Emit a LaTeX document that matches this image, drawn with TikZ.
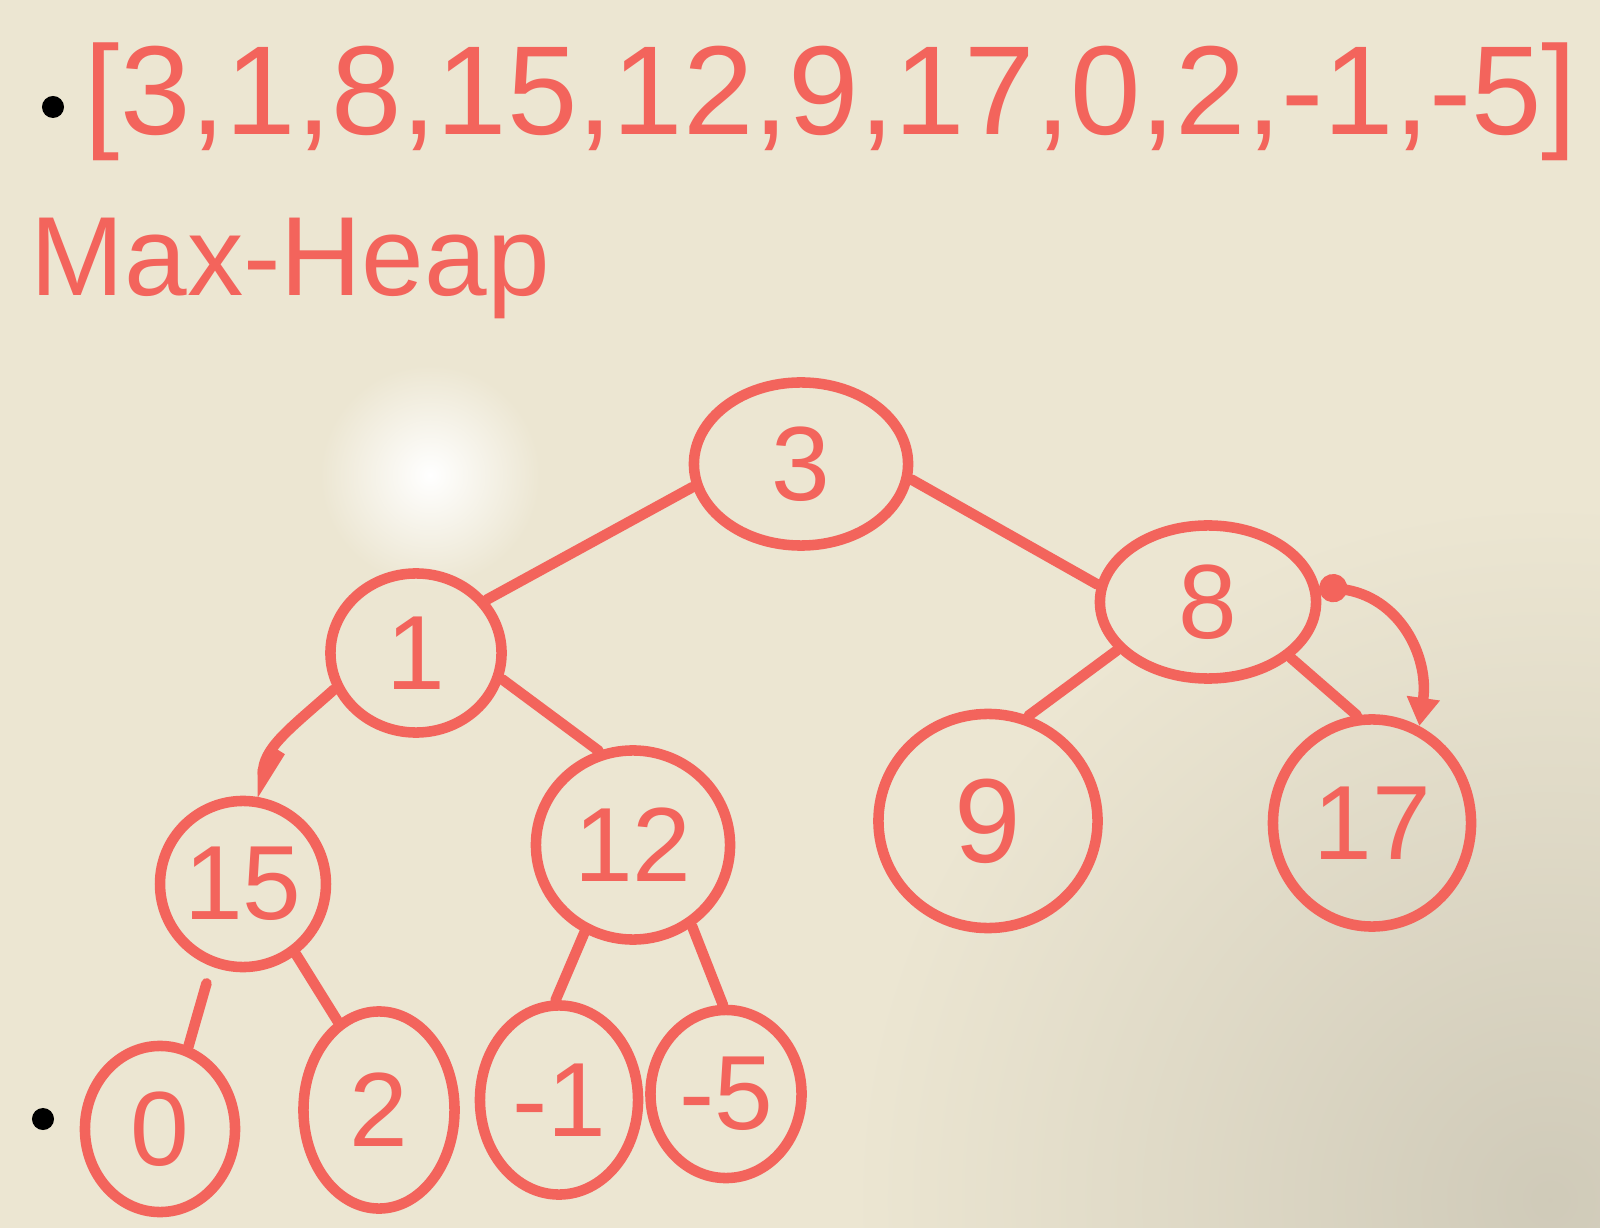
\documentclass[tikz,border=0pt]{standalone}
\usepackage{fontspec}
\setmainfont{Liberation Sans}
\usetikzlibrary{shapes.geometric,arrows.meta}
\definecolor{marker}{RGB}{243,100,92}
\definecolor{board}{RGB}{236,230,210}
\begin{document}
\begin{tikzpicture}[x=0.01cm,y=-0.01cm,
  hnode/.style={ellipse,draw=marker,line width=3pt,inner sep=0pt,text=marker,font=\fontsize{30}{32}\selectfont},
  edge/.style={draw=marker,line width=3pt,line cap=round},
  bullet/.style={circle,fill=black,inner sep=0pt,minimum size=0.22cm},
  label/.style={text=marker,inner sep=0pt}]
\useasboundingbox (0,0) rectangle (1600,1228);
\begin{scope}
\clip (0,0) rectangle (1600,1228);
\fill[board] (0,0) rectangle (1600,1228);
\shade[inner color=board!88!black,outer color=board] (1550,1200) circle (700);
\shade[inner color=white,outer color=board] (430,475) circle (110);
\end{scope}

% header
\node[bullet] (b1) at (53,107) {};
\node[label,font=\fontsize{36}{40}\selectfont] (arr) at (831,102) {[3,1,8,15,12,9,17,0,2,-1,-5]};
\node[label,font=\fontsize{32}{36}\selectfont,anchor=west] (title) at (30,268) {Max-Heap};
\node[bullet] (b2) at (43,1119) {};

% heap nodes
\node[hnode,minimum width=2.14cm,minimum height=1.63cm] (n3) at (801,464) {3};
\node[hnode,minimum width=1.71cm,minimum height=1.59cm] (n1) at (416,653) {1};
\node[hnode,minimum width=2.16cm,minimum height=1.53cm] (n8) at (1208,602) {8};
\node[hnode,minimum width=1.63cm,minimum height=1.66cm] (n15) at (243,884) {15};
\node[hnode,minimum width=1.94cm,minimum height=1.89cm] (n12) at (633,845) {12};
\node[hnode,minimum width=2.19cm,minimum height=2.14cm,font=\fontsize{34}{36}\selectfont] (n9) at (988,821) {9};
\node[hnode,minimum width=1.98cm,minimum height=2.07cm] (n17) at (1372,823) {17};
\node[hnode,minimum width=1.50cm,minimum height=1.66cm] (n0) at (160,1129) {0};
\node[hnode,minimum width=1.51cm,minimum height=1.97cm] (n2) at (379,1110) {2};
\node[hnode,minimum width=1.58cm,minimum height=1.89cm] (nm1) at (559,1100) {-1};
\node[hnode,minimum width=1.51cm,minimum height=1.68cm] (nm5) at (726,1094) {-5};

% connectors
\draw[edge] (n3.192) -- (n1.37);
\draw[edge] (n3.352) -- (n8.171);
\draw[edge] (n1.343) -- (n12.110);
\draw[edge,-{Straight Barb[left,length=8pt,width=10pt]}] (n1.204) .. controls +(-45,40) and +(0,-50) .. (n15.77);
\draw[edge] (n8.208) -- (n9.69);
\draw[edge] (n8.326) -- (n17.98);
\draw[edge,{Circle[length=8pt]}-{Triangle[length=8pt,width=9pt]}] (n8.8) .. controls +(80,10) and +(10,-70) .. (n17.64);
\draw[edge,shorten <=5pt] (n15.249) -- (n0.71);
\draw[edge] (n15.307) -- (n2.115);
\draw[edge] (n12.241) -- (nm1.92);
\draw[edge] (n12.306) -- (nm5.92);
\end{tikzpicture}
\end{document}
